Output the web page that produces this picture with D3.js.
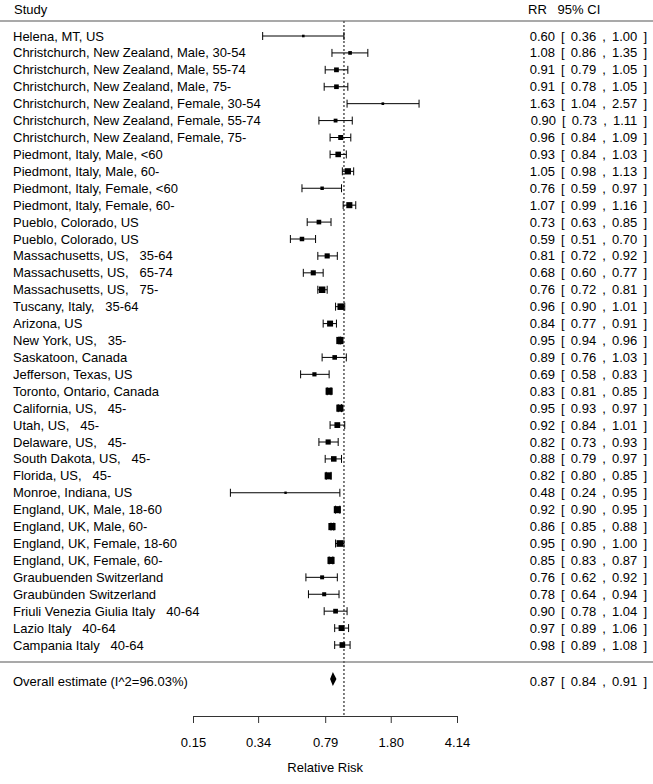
<!DOCTYPE html>
<html>
<head>
	<meta charset="utf-8">
	<title>Forest plot</title>
	<script src="https://d3js.org/d3.v7.min.js"></script>
	<style>
		body { margin: 0; background: #fff; }
		text { font-family: Arial, "Liberation Sans", sans-serif; font-size: 13px; fill: #000; }
		.anno { word-spacing: 2.5px; }
	</style>
</head>
<body>
</body>
<script>
	var studies = [
		"Helena, MT, US",
		"Christchurch, New Zealand, Male, 30-54",
		"Christchurch, New Zealand, Male, 55-74",
		"Christchurch, New Zealand, Male, 75-",
		"Christchurch, New Zealand, Female, 30-54",
		"Christchurch, New Zealand, Female, 55-74",
		"Christchurch, New Zealand, Female, 75-",
		"Piedmont, Italy, Male, <60",
		"Piedmont, Italy, Male, 60-",
		"Piedmont, Italy, Female, <60",
		"Piedmont, Italy, Female, 60-",
		"Pueblo, Colorado, US",
		"Pueblo, Colorado, US",
		"Massachusetts, US,   35-64",
		"Massachusetts, US,   65-74",
		"Massachusetts, US,   75-",
		"Tuscany, Italy,   35-64",
		"Arizona, US",
		"New York, US,   35-",
		"Saskatoon, Canada",
		"Jefferson, Texas, US",
		"Toronto, Ontario, Canada",
		"California, US,   45-",
		"Utah, US,   45-",
		"Delaware, US,   45-",
		"South Dakota, US,   45-",
		"Florida, US,   45-",
		"Monroe, Indiana, US",
		"England, UK, Male, 18-60",
		"England, UK, Male, 60-",
		"England, UK, Female, 18-60",
		"England, UK, Female, 60-",
		"Graubuenden Switzerland",
		"Graubünden Switzerland",
		"Friuli Venezia Giulia Italy   40-64",
		"Lazio Italy   40-64",
		"Campania Italy   40-64"
	];
	var rr = [0.60, 1.08, 0.91, 0.91, 1.63, 0.90, 0.96, 0.93, 1.05, 0.76, 1.07, 0.73, 0.59, 0.81, 0.68, 0.76, 0.96, 0.84, 0.95, 0.89,
		0.69, 0.83, 0.95, 0.92, 0.82, 0.88, 0.82, 0.48, 0.92, 0.86, 0.95, 0.85, 0.76, 0.78, 0.90, 0.97, 0.98];
	var lower = [0.36, 0.86, 0.79, 0.78, 1.04, 0.73, 0.84, 0.84, 0.98, 0.59, 0.99, 0.63, 0.51, 0.72, 0.60, 0.72, 0.90, 0.77, 0.94, 0.76,
		0.58, 0.81, 0.93, 0.84, 0.73, 0.79, 0.80, 0.24, 0.90, 0.85, 0.90, 0.83, 0.62, 0.64, 0.78, 0.89, 0.89];
	var upper = [1.00, 1.35, 1.05, 1.05, 2.57, 1.11, 1.09, 1.03, 1.13, 0.97, 1.16, 0.85, 0.70, 0.92, 0.77, 0.81, 1.01, 0.91, 0.96, 1.03,
		0.83, 0.85, 0.97, 1.01, 0.93, 0.97, 0.85, 0.95, 0.95, 0.88, 1.00, 0.87, 0.92, 0.94, 1.04, 1.06, 1.08];

	var overallLabel = "Overall estimate (I^2=96.03%)";
	var overallRR = 0.87, overallLower = 0.84, overallUpper = 0.91;

	var tickValues = [0.15, 0.34, 0.79, 1.80, 4.14];
	var tickLabels = ["0.15", "0.34", "0.79", "1.80", "4.14"];

	var width = 653, height = 784;
	var leftX = 13, annoX = 647;
	var firstRow = 36, lastRow = 645;
	var topLine = 21, bottomLine = 662, overallY = 679, axisY = 716;

	var data = [];
	for (var i = 0; i < studies.length; i++) {
		data.push({"study": studies[i], "rr": rr[i], "lb": lower[i], "ub": upper[i], "row": i});
	}
	var overall = {"rr": overallRR, "lb": overallLower, "ub": overallUpper};

	// random effects weights (DerSimonian-Laird) for the box sizes
	data.forEach(function(d) {
		d.yi = Math.log(d.rr);
		d.vi = Math.pow((Math.log(d.ub) - Math.log(d.lb)) / (2 * 1.96), 2);
	});
	var sw = d3.sum(data, function(d){ return 1 / d.vi; });
	var sw2 = d3.sum(data, function(d){ return 1 / (d.vi * d.vi); });
	var ybar = d3.sum(data, function(d){ return d.yi / d.vi; }) / sw;
	var Q = d3.sum(data, function(d){ return Math.pow(d.yi - ybar, 2) / d.vi; });
	var tau2 = Math.max(0, (Q - (data.length - 1)) / (sw - sw2 / sw));
	data.forEach(function(d){ d.w = 1 / (d.vi + tau2); });
	var wMin = d3.min(data, function(d){ return d.w; }), wMax = d3.max(data, function(d){ return d.w; });
	data.forEach(function(d){ d.psize = (d.w - wMin) / (wMax - wMin) + 0.5; });

	var svg = d3.select("body").append("svg").attr("width", width).attr("height", height);

	var xScale = d3.scaleLog().domain([0.15, 4.14]).range([193, 457]);
	var yScale = d3.scaleLinear().domain([0, studies.length - 1]).range([firstRow, lastRow]);

	function fmt(v) { return v.toFixed(2); }
	function anno(d) { return fmt(d.rr) + " [ " + fmt(d.lb) + " , " + fmt(d.ub) + " ]"; }

	// header
	svg.append("text").attr("x", leftX + 1).attr("y", 14).text("Study");
	svg.append("text").attr("x", 528).attr("y", 14).attr("xml:space", "preserve").style("white-space", "pre").text("RR   95% CI");

	svg.append("line").attr("x1", 0).attr("x2", width).attr("y1", topLine).attr("y2", topLine).attr("stroke", "#555").attr("stroke-width", 1.2);
	svg.append("line").attr("x1", 0).attr("x2", width).attr("y1", bottomLine).attr("y2", bottomLine).attr("stroke", "#555").attr("stroke-width", 1.2);

	// reference line at RR = 1
	svg.append("line").attr("x1", xScale(1)).attr("x2", xScale(1)).attr("y1", topLine).attr("y2", axisY)
		.attr("stroke", "#555").attr("stroke-width", 1.5).attr("stroke-dasharray", "2,2");

	var rows = svg.append("g").selectAll("g").data(data).enter().append("g")
		.attr("transform", function(d){ return "translate(0," + yScale(d.row) + ")"; });

	rows.append("text").attr("x", leftX).attr("dy", "0.35em").attr("xml:space", "preserve").style("white-space", "pre")
		.text(function(d){ return d.study; });
	rows.append("text").attr("class", "anno").attr("x", annoX).attr("dy", "0.35em").attr("text-anchor", "end").attr("xml:space", "preserve").style("white-space", "pre")
		.text(anno);

	rows.append("line").attr("x1", function(d){ return xScale(d.lb); }).attr("x2", function(d){ return xScale(d.ub); })
		.attr("y1", 0).attr("y2", 0).attr("stroke", "#000");
	rows.append("line").attr("x1", function(d){ return xScale(d.lb); }).attr("x2", function(d){ return xScale(d.lb); })
		.attr("y1", -4).attr("y2", 4).attr("stroke", "#000");
	rows.append("line").attr("x1", function(d){ return xScale(d.ub); }).attr("x2", function(d){ return xScale(d.ub); })
		.attr("y1", -4).attr("y2", 4).attr("stroke", "#000");
	rows.append("rect")
		.attr("x", function(d){ return xScale(d.rr) - d.psize * 2.4; })
		.attr("y", function(d){ return -d.psize * 2.4; })
		.attr("width", function(d){ return d.psize * 4.8; })
		.attr("height", function(d){ return d.psize * 4.8; })
		.attr("fill", "#000");

	// overall estimate
	svg.append("text").attr("x", leftX).attr("y", overallY + 2).attr("dy", "0.35em").text(overallLabel);
	svg.append("text").attr("class", "anno").attr("x", annoX).attr("y", overallY + 2).attr("dy", "0.35em").attr("text-anchor", "end").attr("xml:space", "preserve").style("white-space", "pre")
		.text(anno(overall));
	svg.append("polygon")
		.attr("points", [[xScale(overall.lb), overallY], [xScale(overall.rr), overallY - 7], [xScale(overall.ub), overallY], [xScale(overall.rr), overallY + 7]].join(" "))
		.attr("fill", "#000");

	// axis
	var xAxis = d3.axisBottom(xScale).tickValues(tickValues).tickFormat(function(d, i){ return tickLabels[i]; }).tickSize(7).tickPadding(15);
	var xAxisG = svg.append("g").attr("transform", "translate(0," + axisY + ")").call(xAxis);
	xAxisG.select(".domain").attr("d", "M" + xScale(0.15) + ",0.5H" + xScale(4.14)).attr("stroke", "#333");
	xAxisG.selectAll(".tick line").attr("stroke", "#333");
	xAxisG.selectAll("text").style("font-family", "Arial, 'Liberation Sans', sans-serif").style("font-size", "13px").attr("fill", "#000");

	svg.append("text").attr("x", xScale(0.79)).attr("y", 772).attr("text-anchor", "middle").text("Relative Risk");
</script>
</html>
